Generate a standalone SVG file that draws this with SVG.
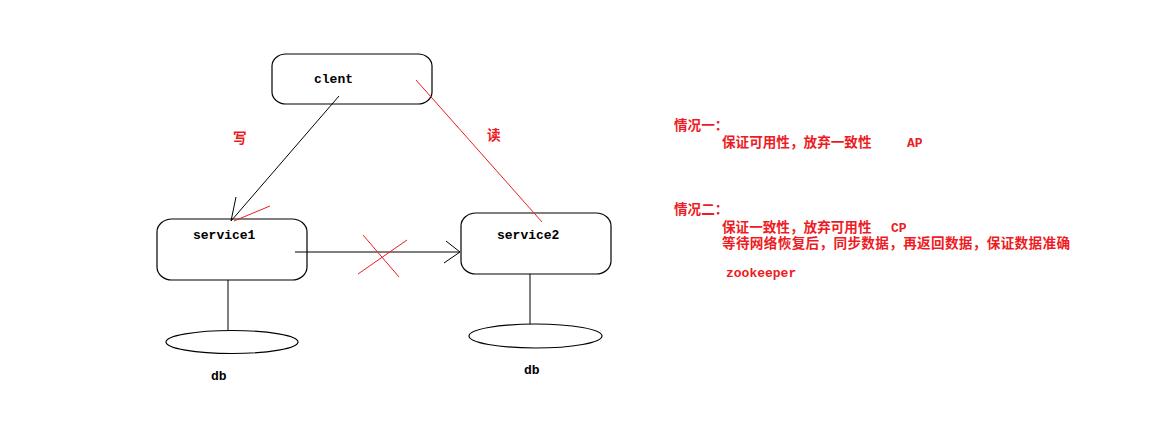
<svg xmlns="http://www.w3.org/2000/svg" width="1174" height="425" viewBox="0 0 1174 425">
<style>
.box{fill:#fff;stroke:#000;stroke-width:1.2}
.lbl{font-family:"Liberation Mono",monospace;font-weight:bold;font-size:13px;fill:#000}
.blk{stroke:#000;stroke-width:1;fill:none}
.red{stroke:#ED1C24;stroke-width:1;fill:none}
.cn{font-family:"Noto Sans CJK SC",sans-serif;font-weight:bold;font-size:13.6px;fill:#ED1C24}
.lat{font-family:"Liberation Mono",monospace;font-weight:bold;font-size:13px;fill:#ED1C24}
</style>
<rect width="1174" height="425" fill="#fff"/>
<g id="client">
<rect class="box" x="272" y="54" width="160" height="50" rx="14" ry="12"/>
<text class="lbl" x="314" y="83">clent</text>
</g>
<g id="service1">
<rect class="box" x="157" y="219" width="150" height="61" rx="15" ry="13"/>
<text class="lbl" x="193" y="239">service1</text>
</g>
<g id="service2">
<rect class="box" x="461" y="213" width="150" height="61" rx="15" ry="13"/>
<text class="lbl" x="497" y="239">service2</text>
</g>
<g id="db1">
<ellipse class="box" cx="232" cy="342" rx="66" ry="11.5"/>
<text class="lbl" x="211" y="380">db</text>
</g>
<g id="db2">
<ellipse class="box" cx="535.5" cy="336" rx="66.5" ry="12"/>
<text class="lbl" x="524" y="374">db</text>
</g>
<g id="connectors">
<line class="blk" x1="339" y1="96" x2="231" y2="221"/>
<line class="blk" x1="236" y1="197" x2="231" y2="221"/>
<line class="red" x1="234" y1="221" x2="270" y2="206"/>
<line class="red" x1="416" y1="80" x2="542" y2="222"/>
<line class="blk" x1="295" y1="252" x2="460" y2="252"/>
<line class="blk" x1="446" y1="241" x2="460" y2="252"/>
<line class="blk" x1="444" y1="263" x2="460" y2="252"/>
<line class="red" x1="363" y1="235" x2="399" y2="277"/>
<line class="red" x1="407" y1="240" x2="358" y2="274"/>
<line class="blk" x1="228" y1="280" x2="228" y2="330"/>
<line class="blk" x1="530" y1="274" x2="530" y2="324"/>
<text class="cn" x="233" y="143" font-size="13">写</text>
<text class="cn" x="487" y="140" font-size="13">读</text>
</g>
<g id="notes">
<text class="cn" x="674" y="130">情况一：</text>
<text class="cn" x="722" y="147">保证可用性，放弃一致性</text>
<text class="lat" x="907" y="147">AP</text>
<text class="cn" x="674" y="214">情况二：</text>
<text class="cn" x="722" y="232">保证一致性，放弃可用性</text>
<text class="lat" x="891" y="232">CP</text>
<text class="cn" x="722" y="248" textLength="348">等待网络恢复后，同步数据，再返回数据，保证数据准确</text>
<text class="lat" x="726" y="277">zookeeper</text>
</g>
</svg>
